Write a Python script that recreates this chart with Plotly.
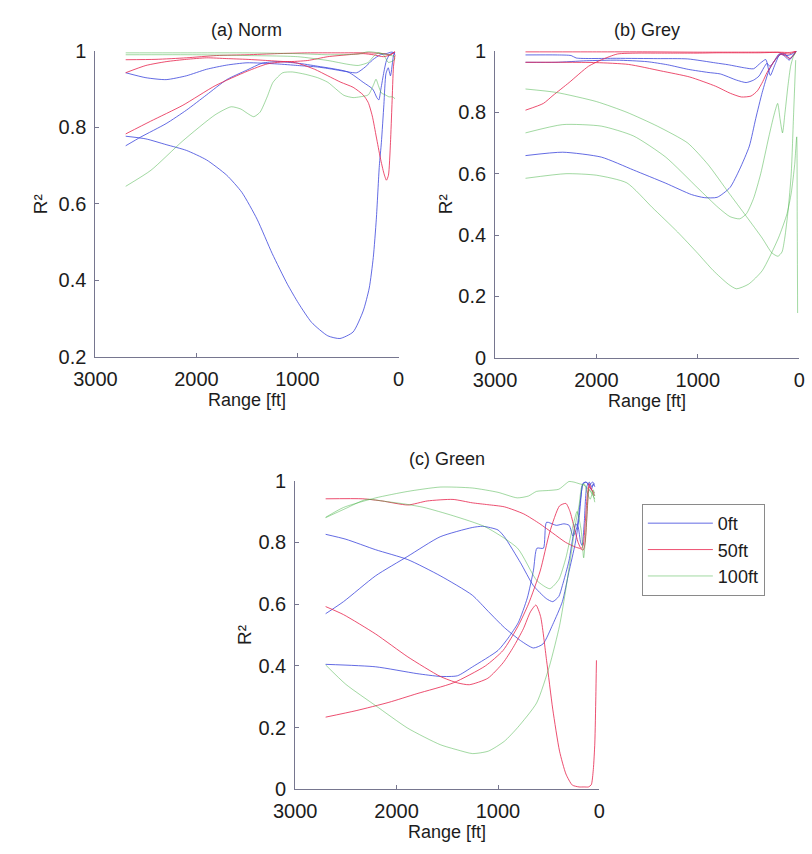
import plotly.graph_objects as go

W, H = 812, 854

# ---------------- (a) Norm ----------------
a_b1_ft = [2700, 2500, 2300, 2100, 1900, 1700, 1550, 1400, 1250, 1100, 990, 860, 700, 580, 450, 350, 290, 250, 220, 190, 170, 145, 125, 102, 80, 48, 35]
a_b1_r2 = [0.777, 0.77, 0.755, 0.74, 0.715, 0.675, 0.63, 0.56, 0.47, 0.39, 0.34, 0.29, 0.255, 0.248, 0.265, 0.32, 0.38, 0.46, 0.56, 0.7, 0.76, 0.86, 0.94, 0.956, 0.935, 0.99, 0.995]
a_b2_ft = [2700, 2550, 2300, 2100, 1900, 1700, 1500, 1350, 1200, 1000, 800, 500, 350, 255, 215, 195, 175, 145, 120, 90, 60, 35]
a_b2_r2 = [0.752, 0.775, 0.81, 0.845, 0.885, 0.925, 0.95, 0.968, 0.972, 0.968, 0.96, 0.945, 0.918, 0.9, 0.878, 0.872, 0.9, 0.945, 0.975, 0.99, 0.995, 0.99]
a_b3_ft = [2700, 2500, 2300, 2100, 1900, 1700, 1500, 1200, 1000, 800, 650, 540, 414, 330, 255, 180, 120, 70, 35]
a_b3_r2 = [0.943, 0.93, 0.925, 0.935, 0.952, 0.963, 0.969, 0.966, 0.962, 0.958, 0.952, 0.947, 0.943, 0.958, 0.977, 0.99, 0.993, 0.997, 0.995]

a_r1_ft = [2700, 2400, 2100, 1800, 1500, 1200, 900, 600, 300, 150, 80, 35]
a_r1_r2 = [0.977, 0.978, 0.982, 0.988, 0.99, 0.993, 0.995, 0.995, 0.995, 0.993, 0.99, 0.998]
a_r2_ft = [2700, 2500, 2300, 2100, 1900, 1700, 1500, 1300, 1100, 900, 700, 500, 350, 250, 150, 80, 35]
a_r2_r2 = [0.943, 0.962, 0.972, 0.978, 0.982, 0.98, 0.978, 0.975, 0.972, 0.975, 0.985, 0.99, 0.993, 0.99, 0.985, 0.99, 0.998]
a_r3_ft = [2700, 2455, 2134, 1815, 1497, 1300, 1100, 1000, 830, 700, 570, 450, 350, 300, 260, 220, 180, 145, 120, 100, 80, 65, 50, 35]
a_r3_r2 = [0.783, 0.816, 0.858, 0.909, 0.947, 0.966, 0.972, 0.968, 0.952, 0.935, 0.918, 0.905, 0.885, 0.865, 0.83, 0.775, 0.72, 0.68, 0.662, 0.675, 0.76, 0.86, 0.96, 0.99]

a_g1_ft = [2700, 2450, 2134, 1815, 1656, 1560, 1497, 1433, 1370, 1300, 1242, 1146, 1050, 924, 800, 700, 541, 450, 382, 300, 250, 223, 200, 170, 130, 96, 60, 35]
a_g1_r2 = [0.646, 0.688, 0.765, 0.833, 0.854, 0.848, 0.837, 0.828, 0.84, 0.88, 0.918, 0.943, 0.945, 0.939, 0.93, 0.918, 0.884, 0.878, 0.88, 0.885, 0.91, 0.926, 0.91, 0.89, 0.885, 0.88, 0.88, 0.875]
a_g2_ft = [2700, 2000, 1500, 1000, 700, 400, 300, 200, 100, 35]
a_g2_r2 = [0.995, 0.995, 0.995, 0.993, 0.99, 0.992, 0.998, 0.995, 0.99, 0.985]
a_g3_ft = [2700, 2000, 1500, 1000, 700, 500, 400, 300, 250, 200, 150, 100, 50, 35]
a_g3_r2 = [0.99, 0.99, 0.988, 0.985, 0.975, 0.965, 0.962, 0.97, 0.985, 0.995, 0.99, 0.97, 0.975, 0.98]

# ---------------- (b) Grey ----------------
b_b1_ft = [2700, 2333, 1952, 1635, 1317, 1063, 937, 810, 683, 587, 492, 429, 365, 300, 240, 175, 120, 70, 30]
b_b1_r2 = [0.659, 0.67, 0.654, 0.612, 0.569, 0.532, 0.522, 0.523, 0.555, 0.615, 0.69, 0.78, 0.865, 0.935, 0.97, 0.99, 0.985, 0.99, 1.0]
b_b2_ft = [2700, 2400, 2100, 1800, 1500, 1300, 1095, 900, 778, 619, 524, 450, 397, 350, 318, 290, 250, 200, 150, 100, 60, 30]
b_b2_r2 = [0.963, 0.963, 0.968, 0.97, 0.965, 0.955, 0.94, 0.93, 0.925, 0.905, 0.897, 0.905, 0.918, 0.945, 0.96, 0.95, 0.965, 0.99, 0.985, 0.97, 0.985, 1.0]
b_b3_ft = [2700, 2400, 2250, 2200, 1800, 1400, 1100, 825, 700, 540, 450, 381, 330, 286, 240, 190, 140, 90, 30]
b_b3_r2 = [0.987, 0.987, 0.985, 0.977, 0.976, 0.975, 0.974, 0.961, 0.955, 0.945, 0.942, 0.961, 0.972, 0.92, 0.955, 0.99, 0.99, 0.975, 1.0]

b_r1_ft = [2700, 2000, 1500, 1000, 500, 200, 100, 30]
b_r1_r2 = [0.997, 0.997, 0.997, 0.996, 0.996, 0.996, 0.995, 0.998]
b_r2_ft = [2700, 2300, 2000, 1683, 1365, 1079, 825, 680, 571, 476, 413, 360, 317, 250, 190, 140, 95, 60, 32]
b_r2_r2 = [0.963, 0.963, 0.962, 0.956, 0.935, 0.915, 0.885, 0.862, 0.85, 0.853, 0.87, 0.9, 0.93, 0.965, 0.99, 0.985, 0.975, 0.985, 0.997]
b_r3_ft = [2700, 2524, 2429, 2270, 2079, 1952, 1794, 1600, 1400, 1200, 1000, 800, 600, 400, 200, 100, 30]
b_r3_r2 = [0.807, 0.829, 0.855, 0.897, 0.95, 0.971, 0.99, 0.993, 0.993, 0.993, 0.993, 0.994, 0.994, 0.994, 0.995, 0.99, 1.0]

b_g1_ft = [2700, 2400, 2000, 1700, 1400, 1100, 900, 700, 520, 365, 270, 210, 170, 143, 110, 79, 55, 35]
b_g1_r2 = [0.876, 0.865, 0.835, 0.8, 0.755, 0.7, 0.63, 0.54, 0.46, 0.39, 0.342, 0.331, 0.345, 0.39, 0.48, 0.6, 0.8, 0.97]
b_g2_ft = [2700, 2333, 1952, 1635, 1317, 1000, 800, 683, 587, 520, 450, 380, 300, 250, 213, 190, 165, 140, 111, 85, 60, 35]
b_g2_r2 = [0.733, 0.76, 0.755, 0.723, 0.654, 0.553, 0.49, 0.46, 0.453, 0.47, 0.52, 0.6, 0.72, 0.79, 0.829, 0.78, 0.733, 0.8, 0.887, 0.95, 0.98, 0.995]
b_g3_ft = [2700, 2300, 2000, 1700, 1450, 1200, 1000, 850, 700, 620, 500, 365, 206, 120, 79, 45, 25, 20, 16]
b_g3_r2 = [0.585, 0.6, 0.595, 0.57, 0.49, 0.41, 0.34, 0.285, 0.24, 0.225, 0.24, 0.284, 0.39, 0.47, 0.537, 0.63, 0.72, 0.45, 0.146]

# ---------------- (c) Green ----------------
c_b1_ft = [2700, 2500, 2206, 1889, 1571, 1254, 1095, 937, 778, 651, 556, 460, 365, 302, 238, 200, 180, 165, 140, 110, 80, 60, 45]
c_b1_r2 = [0.826, 0.81, 0.776, 0.744, 0.692, 0.629, 0.576, 0.524, 0.482, 0.458, 0.471, 0.534, 0.608, 0.702, 0.797, 0.88, 0.95, 0.99, 0.995, 0.99, 0.97, 0.99, 0.98]
c_b2_ft = [2700, 2524, 2206, 1889, 1571, 1254, 1150, 1000, 937, 778, 651, 524, 460, 400, 365, 300, 260, 235, 210, 185, 170, 150, 125, 100, 75, 50]
c_b2_r2 = [0.569, 0.608, 0.692, 0.755, 0.818, 0.848, 0.852, 0.84, 0.818, 0.734, 0.66, 0.618, 0.608, 0.625, 0.66, 0.74, 0.82, 0.86, 0.85, 0.8, 0.79, 0.86, 0.98, 0.995, 0.98, 0.99]
c_b3_ft = [2700, 2206, 1800, 1571, 1400, 1251, 1000, 900, 800, 711, 650, 616, 552, 521, 425, 350, 298, 260, 220, 190, 160, 130, 100, 70, 50]
c_b3_r2 = [0.405, 0.397, 0.375, 0.366, 0.368, 0.397, 0.45, 0.49, 0.54, 0.62, 0.71, 0.781, 0.781, 0.865, 0.855, 0.86, 0.855, 0.82, 0.85, 0.93, 0.99, 0.995, 0.985, 0.995, 0.99]

c_r1_ft = [2700, 2333, 2143, 1889, 1698, 1444, 1254, 1100, 937, 746, 587, 460, 333, 238, 190, 160, 140, 120, 100, 75, 50]
c_r1_r2 = [0.941, 0.941, 0.934, 0.921, 0.934, 0.939, 0.928, 0.922, 0.915, 0.892, 0.86, 0.83, 0.8, 0.785, 0.78, 0.775, 0.8, 0.9, 0.98, 0.97, 0.95]
c_r2_ft = [2700, 2524, 2206, 1889, 1571, 1400, 1283, 1100, 950, 850, 750, 680, 626, 580, 521, 460, 393, 330, 267, 200, 150, 108, 80, 60, 45, 35, 29]
c_r2_r2 = [0.592, 0.566, 0.503, 0.429, 0.366, 0.345, 0.339, 0.36, 0.41, 0.46, 0.52, 0.575, 0.597, 0.56, 0.418, 0.26, 0.124, 0.05, 0.014, 0.008, 0.008, 0.008, 0.015, 0.064, 0.15, 0.3, 0.418]
c_r3_ft = [2700, 2400, 2076, 1800, 1441, 1124, 950, 800, 700, 584, 489, 393, 330, 290, 250, 210, 180, 160, 140, 120, 100, 75, 50]
c_r3_r2 = [0.234, 0.255, 0.282, 0.31, 0.345, 0.4, 0.45, 0.53, 0.6, 0.707, 0.834, 0.918, 0.926, 0.9, 0.85, 0.8, 0.78, 0.79, 0.86, 0.95, 0.99, 0.97, 0.96]

c_g1_ft = [2700, 2524, 2206, 1889, 1571, 1254, 1000, 810, 700, 620, 500, 400, 330, 300, 250, 200, 150, 100, 60, 45]
c_g1_r2 = [0.881, 0.913, 0.944, 0.965, 0.979, 0.976, 0.962, 0.944, 0.95, 0.965, 0.968, 0.972, 0.99, 0.997, 0.995, 0.99, 0.985, 0.97, 0.95, 0.94]
c_g2_ft = [2700, 2500, 2298, 2100, 1917, 1730, 1441, 1124, 807, 616, 489, 400, 330, 267, 220, 180, 155, 130, 100, 70, 45]
c_g2_r2 = [0.88, 0.91, 0.939, 0.932, 0.924, 0.913, 0.886, 0.85, 0.781, 0.676, 0.65, 0.68, 0.75, 0.844, 0.9, 0.84, 0.75, 0.85, 0.97, 0.96, 0.93]
c_g3_ft = [2700, 2500, 2206, 1889, 1571, 1400, 1251, 1095, 937, 807, 619, 492, 393, 330, 280, 230, 200, 175, 150, 120, 90, 60, 45]
c_g3_r2 = [0.403, 0.34, 0.271, 0.198, 0.145, 0.128, 0.116, 0.124, 0.156, 0.2, 0.28, 0.4, 0.53, 0.65, 0.76, 0.87, 0.92, 0.98, 0.99, 0.96, 0.94, 0.97, 0.95]

legend_names = ["0ft", "50ft", "100ft"]
line_colors = ["rgba(60,70,220,0.8)", "rgba(232,40,80,0.82)", "rgba(70,180,70,0.5)"]

panels = {
    "a": [[(a_b1_ft, a_b1_r2), (a_b2_ft, a_b2_r2), (a_b3_ft, a_b3_r2)],
          [(a_r1_ft, a_r1_r2), (a_r2_ft, a_r2_r2), (a_r3_ft, a_r3_r2)],
          [(a_g1_ft, a_g1_r2), (a_g2_ft, a_g2_r2), (a_g3_ft, a_g3_r2)]],
    "b": [[(b_b1_ft, b_b1_r2), (b_b2_ft, b_b2_r2), (b_b3_ft, b_b3_r2)],
          [(b_r1_ft, b_r1_r2), (b_r2_ft, b_r2_r2), (b_r3_ft, b_r3_r2)],
          [(b_g1_ft, b_g1_r2), (b_g2_ft, b_g2_r2), (b_g3_ft, b_g3_r2)]],
    "c": [[(c_b1_ft, c_b1_r2), (c_b2_ft, c_b2_r2), (c_b3_ft, c_b3_r2)],
          [(c_r1_ft, c_r1_r2), (c_r2_ft, c_r2_r2), (c_r3_ft, c_r3_r2)],
          [(c_g1_ft, c_g1_r2), (c_g2_ft, c_g2_r2), (c_g3_ft, c_g3_r2)]],
}
panel_axes = {"a": ("x", "y"), "b": ("x2", "y2"), "c": ("x3", "y3")}
# pixel boxes: left, right, top, bottom
panel_box = {"a": (76, 390, 41, 355), "b": (490, 805, 41, 356), "c": (283, 598, 482, 799)}
panel_title = {"a": "(a) Norm", "b": "(b) Grey", "c": "(c) Green"}
panel_yrange = {"a": [0.2, 1.0], "b": [0.0, 1.0], "c": [0.0, 1.0]}
ylabel_gap = {"a": 56, "b": 52, "c": 53}

FONT = "Liberation Sans, Arial, Helvetica, sans-serif"
AXIS_COLOR = "#76768f"

fig = go.Figure()

for key in ["a", "b", "c"]:
    xa, ya = panel_axes[key]
    for ci, group in enumerate(panels[key]):
        for k, (ft, r2) in enumerate(group):
            fig.add_trace(go.Scatter(
                x=ft, y=r2, mode="lines", xaxis=xa, yaxis=ya,
                line=dict(color=line_colors[ci], width=1, shape="spline", smoothing=0.6),
                name=legend_names[ci], legendgroup=legend_names[ci],
                showlegend=(key == "c" and k == 0), hoverinfo="skip",
            ))


def fx(p):
    return p / W


def fy(p):
    return 1 - p / H


layout = dict(
    width=W, height=H, margin=dict(l=0, r=0, t=0, b=0),
    paper_bgcolor="white", plot_bgcolor="white",
    font=dict(family=FONT, size=18, color="#1c1c1c"),
    legend=dict(x=fx(642), y=fy(506), xanchor="left", yanchor="top",
                bordercolor="#8a8a8a", borderwidth=1, bgcolor="white",
                font=dict(size=18), tracegroupgap=0, itemwidth=65),
    annotations=[],
)

for key in ["a", "b", "c"]:
    l, r, t, b = panel_box[key]
    xa, ya = panel_axes[key]
    xname = "xaxis" + xa[1:]
    yname = "yaxis" + ya[1:]
    y0, y1 = panel_yrange[key]
    yt = [round(y0 + 0.2 * i, 1) for i in range(int(round((y1 - y0) / 0.2)) + 1)]
    layout[xname] = dict(
        domain=[fx(l), fx(r)], range=[3000, 0], anchor=ya,
        tickvals=[3000, 2000, 1000, 0], ticktext=["3000", "2000", "1000", "0"],
        ticks="inside", ticklen=4, tickcolor=AXIS_COLOR, showline=True,
        linecolor=AXIS_COLOR, linewidth=1, showgrid=False, zeroline=False,
        tickfont=dict(size=20), ticklabelstandoff=4,
    )
    layout[yname] = dict(
        domain=[fy(b), fy(t)], range=[y0, y1], anchor=xa,
        tickvals=yt, ticktext=[("%g" % v) for v in yt],
        ticks="inside", ticklen=4, tickcolor=AXIS_COLOR, showline=True,
        linecolor=AXIS_COLOR, linewidth=1, showgrid=False, zeroline=False,
        tickfont=dict(size=20), ticklabelstandoff=4,
    )
    cx = (l + r) / 2
    layout["annotations"].append(dict(
        text=panel_title[key], x=fx(cx), y=fy(t - 22), xref="paper", yref="paper",
        showarrow=False, xanchor="center", yanchor="middle", font=dict(size=18)))
    layout["annotations"].append(dict(
        text="Range [ft]", x=fx(cx), y=fy(b + 44), xref="paper", yref="paper",
        showarrow=False, xanchor="center", yanchor="middle", font=dict(size=18)))
    layout["annotations"].append(dict(
        text="R²", x=fx(l - ylabel_gap[key]), y=fy((t + b) / 2), xref="paper", yref="paper",
        showarrow=False, xanchor="center", yanchor="middle", textangle=-90,
        font=dict(size=19)))

fig.update_layout(**layout)
fig.write_html("out.html")
